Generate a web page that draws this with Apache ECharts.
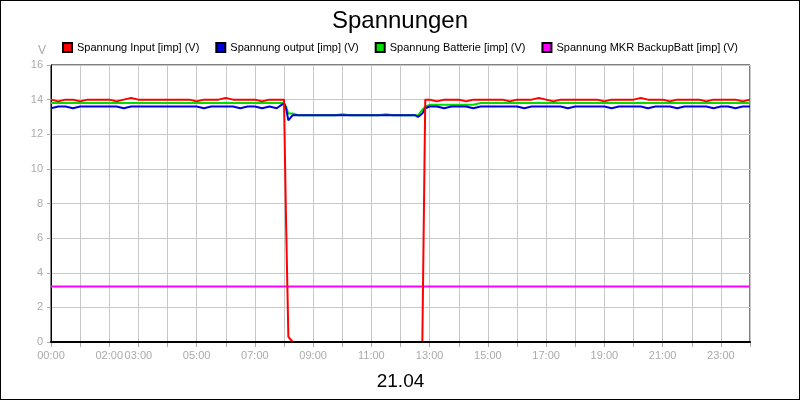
<!DOCTYPE html>
<html><head><meta charset="utf-8">
<script src="https://cdn.jsdelivr.net/npm/echarts@6/dist/echarts.min.js"></script>
<style>html,body{margin:0;padding:0}#c{width:798px;height:398px;border:1px solid #000}</style>
</head><body><div id="c"></div>
<script>
const times = [0,0.25,0.5,0.75,1,1.25,1.5,1.75,2,2.25,2.5,2.75,3,3.25,3.5,3.75,4,4.25,4.5,4.75,5,5.25,5.5,5.75,6,6.25,6.5,6.75,7,7.25,7.5,7.75,
 8.0,8.07,8.15,8.3,
 8.5,8.75,9,9.25,9.5,9.75,10,10.25,10.5,10.75,11,11.25,11.5,11.75,12,12.25,12.5,
 12.6,12.75,12.85,
 13,13.25,13.5,13.75,14,14.25,14.5,14.75,15,15.25,15.5,15.75,16,16.25,16.5,16.75,17,17.25,17.5,17.75,18,18.25,18.5,18.75,19,19.25,19.5,19.75,20,20.25,20.5,20.75,21,21.25,21.5,21.75,22,22.25,22.5,22.75,23,23.25,23.5,23.75,24];
const inputV = [14.0,13.9,14.0,14.0,13.9,14.0,14.0,14.0,14.0,13.9,14.0,14.1,14.0,14.0,14.0,14.0,14.0,14.0,14.0,14.0,13.9,14.0,14.0,14.0,14.1,14.0,14.0,14.0,14.0,13.9,14.0,14.0,
 14.0,7.0,0.3,0.0,
 0,0,0,0,0,0,0,0,0,0,0,0,0,0,0,0,0,
 0.0,0.0,14.0,
 14.0,13.9,14.0,14.0,14.0,13.9,14.0,14.0,14.0,14.0,14.0,13.9,14.0,14.0,14.0,14.1,14.0,13.9,14.0,14.0,14.0,14.0,14.0,14.0,13.9,14.0,14.0,14.0,14.0,14.1,14.0,14.0,14.0,13.9,14.0,14.0,14.0,14.0,13.9,14.0,14.0,14.0,14.0,13.9,14.0,14.0,14.0];
const outputV = [13.5,13.6,13.6,13.5,13.6,13.6,13.6,13.6,13.6,13.6,13.5,13.6,13.6,13.6,13.6,13.6,13.6,13.6,13.6,13.6,13.6,13.5,13.6,13.6,13.6,13.6,13.5,13.6,13.6,13.5,13.6,13.5,
 13.8,13.5,12.8,13.1,
 13.1,13.1,13.1,13.1,13.1,13.1,13.1,13.1,13.1,13.1,13.1,13.1,13.1,13.1,13.1,13.1,13.1,
 13.0,13.2,13.5,
 13.6,13.6,13.5,13.6,13.6,13.6,13.5,13.6,13.6,13.6,13.6,13.6,13.6,13.5,13.6,13.6,13.6,13.6,13.6,13.5,13.6,13.6,13.6,13.6,13.6,13.5,13.6,13.6,13.6,13.6,13.5,13.6,13.6,13.6,13.5,13.6,13.6,13.6,13.6,13.5,13.6,13.6,13.5,13.6,13.6,13.5,13.6];
const battV = [13.8,13.8,13.8,13.8,13.8,13.8,13.8,13.8,13.8,13.8,13.8,13.8,13.8,13.8,13.8,13.8,13.8,13.8,13.8,13.8,13.8,13.8,13.8,13.8,13.8,13.8,13.8,13.8,13.8,13.8,13.8,13.8,
 13.8,13.6,13.2,13.2,
 13.1,13.1,13.1,13.1,13.1,13.1,13.15,13.1,13.1,13.1,13.1,13.1,13.15,13.1,13.1,13.1,13.1,
 13.1,13.4,13.6,
 13.7,13.7,13.7,13.7,13.7,13.7,13.7,13.8,13.8,13.8,13.8,13.8,13.8,13.8,13.8,13.8,13.8,13.8,13.8,13.8,13.8,13.8,13.8,13.8,13.8,13.8,13.8,13.8,13.8,13.8,13.8,13.8,13.8,13.8,13.8,13.8,13.8,13.8,13.8,13.8,13.8,13.8,13.8,13.8,13.8,13.8,13.8];
const backupV = [3.2,3.2];
const backupT = [0,24];
const xLabels = {0:'00:00',2:'02:00',3:'03:00',5:'05:00',7:'07:00',9:'09:00',11:'11:00',13:'13:00',15:'15:00',17:'17:00',19:'19:00',21:'21:00',23:'23:00'};
const names = ['Spannung Input [imp] (V)','Spannung output [imp] (V)','Spannung Batterie [imp] (V)','Spannung MKR BackupBatt [imp] (V)'];
const colors = ['#ff0000','#0000dd','#00dd00','#ff00ff'];
const zip = (t,v)=>t.map((x,i)=>[x,v[i]]);
const series = [zip(times,inputV),zip(times,outputV),zip(times,battV),zip(backupT,backupV)].map((d,i)=>({
  name:names[i], type:'line', data:d, showSymbol:false, xAxisIndex:0,
  lineStyle:{color:colors[i],width:2}, itemStyle:{color:colors[i],borderColor:'#000',borderWidth:1}
}));
series[2].z=3; series[0].z=5; series[1].z=4; series[3].z=3;
const chart = echarts.init(document.getElementById('c'));
chart.setOption({
  animation:false,
  title:{text:'Spannungen',left:'center',top:3,textStyle:{fontFamily:'Liberation Sans',fontSize:24,fontWeight:'normal',color:'#000'}},
  legend:{top:36,left:56,itemGap:16,itemWidth:9,itemHeight:9,icon:'rect',
    textStyle:{fontFamily:'Liberation Sans',fontSize:11,color:'#000'},data:names},
  grid:{left:50,right:49,top:64,bottom:57,show:true,borderColor:'#000',borderWidth:1},
  xAxis:[{type:'value',min:0,max:24,interval:1,name:'21.04',nameLocation:'middle',nameGap:30,
    nameTextStyle:{fontFamily:'Liberation Sans',fontSize:19,color:'#000'},
    axisLine:{lineStyle:{color:'#000'}},axisTick:{show:true,length:5,lineStyle:{color:'#aaa'}},
    axisLabel:{fontFamily:'Liberation Sans',fontSize:11,color:'#aaa',formatter:v=>xLabels[v]||''},
    splitLine:{lineStyle:{color:'#c8c8c8'}}},
   {type:'value',min:0,max:24,position:'bottom',z:20,axisLine:{lineStyle:{color:'#000',width:2}},
    axisTick:{show:false},axisLabel:{show:false},splitLine:{show:false}}],
  yAxis:{type:'value',min:0,max:16,interval:2,name:'V',nameGap:8,
    nameTextStyle:{fontFamily:'Liberation Sans',fontSize:12,color:'#aaa',padding:[0,18,0,0]},
    axisLine:{show:true,lineStyle:{color:'#000'}},axisTick:{show:true,length:4,lineStyle:{color:'#aaa'}},
    axisLabel:{fontFamily:'Liberation Sans',fontSize:11,color:'#aaa'},
    splitLine:{lineStyle:{color:'#c8c8c8'}}},
  series
});
</script></body></html>
